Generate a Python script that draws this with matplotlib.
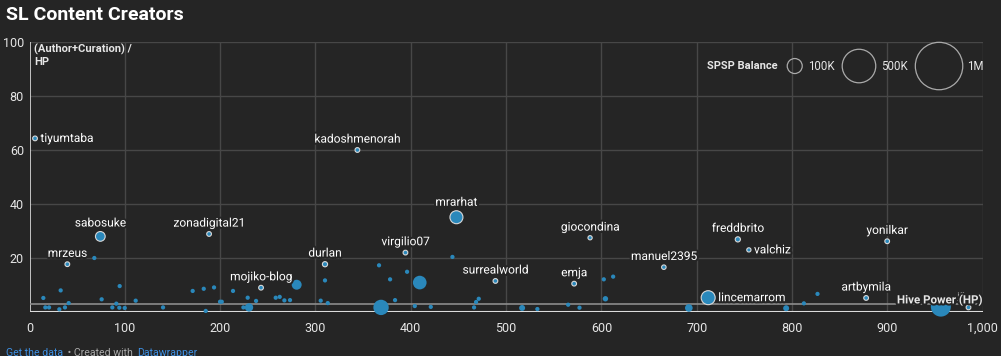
import numpy as np
import matplotlib.pyplot as plt
import matplotlib.patheffects as pe

# labelled creators: Hive Power (HP), (Author+Curation)/HP, SPSP balance (thousands)
label_names = [
    "tiyumtaba", "kadoshmenorah", "sabosuke", "zonadigital21", "mrzeus",
    "mojiko-blog", "durlan", "virgilio07", "mrarhat", "surrealworld",
    "emja", "giocondina", "manuel2395", "freddbrito", "valchiz",
    "lincemarrom", "yonilkar", "artbymila", "jfhu...",
]
label_hp = [5.8, 344, 74.3, 188.4, 39.7, 242.9, 310, 394.4, 447.9, 488.8,
            571.4, 588.1, 665.5, 743.1, 754.7, 712, 899.8, 877.7, 985.1]
label_ratio = [64.3, 60.0, 28.0, 28.9, 17.7, 9.0, 17.7, 22.0, 35.1, 11.5,
               10.5, 27.5, 16.6, 26.9, 23.0, 5.3, 26.2, 5.2, 1.7]
label_balance = [10, 10, 42, 10, 10, 10, 12, 10, 75, 10,
                 10, 8, 9, 12, 8, 87, 10, 10, 10]
label_side = ["right", "above", "above", "above", "above",
              "above", "above", "above", "above", "above",
              "above", "above", "above", "above", "right",
              "right", "above", "above", "above"]

# other creators (no label)
other_hp = [68, 14.5, 32.7, 16.6, 20.5, 31.3, 37.2, 41.1, 75.7, 94.6,
            86.9, 91.1, 94.2, 99.9, 111.4, 140.1, 171.2, 182.8, 193.6, 184.9,
            199.9, 201.7, 213.5, 228.9, 237.7, 224.4, 230.3, 280.3, 258.3, 262.5,
            267.4, 273.3, 310, 305.5, 312.9, 368.8, 366.7, 378.3, 383.5, 396.1,
            409.4, 404.2, 421, 443.7, 466.4, 468.5, 471.3, 516.8, 532.8, 565.1,
            577, 602.5, 612.3, 604.2, 691.7, 793.8, 812.4, 826.7, 956.1]
other_ratio = [20, 5.2, 8.0, 1.7, 1.7, 1.0, 1.7, 3.3, 4.7, 9.6,
               1.7, 3.1, 1.6, 1.5, 4.2, 1.7, 7.8, 8.6, 9.1, 0.4,
               3.8, 3.8, 7.8, 5.3, 4.1, 1.7, 1.7, 10.1, 5.3, 5.6,
               4.3, 4.4, 11.7, 4.2, 3.3, 1.7, 17.3, 12.1, 4.4, 14.9,
               10.9, 2.2, 1.9, 20.4, 1.7, 3.7, 4.9, 1.5, 1.1, 2.7,
               1.6, 12.1, 13.1, 4.9, 1.5, 1.4, 3.2, 6.7, 2.0]
other_balance = [8, 8, 8, 8, 8, 8, 8, 8, 8, 8,
                 8, 8, 8, 8, 8, 8, 8, 8, 8, 8,
                 8, 8, 8, 8, 8, 8, 31, 44, 8, 8,
                 8, 8, 8, 8, 8, 105, 8, 8, 8, 8,
                 83, 8, 8, 8, 8, 8, 8, 16, 8, 8,
                 8, 8, 8, 13, 26, 16, 8, 8, 178]

legend_values = [100, 500, 1000]
legend_labels = ["100K", "500K", "1M"]

x_ticks = [0, 100, 200, 300, 400, 500, 600, 700, 800, 900, 1000]
y_ticks = [20, 40, 60, 80, 100]

BG = "#252525"
GRID = "#474747"
TEXT = "#e6e6e6"
DOT = "#2a88bb"
LINK = "#3d8ee0"
DPI = 100


def radius_px(bal):
    return 7.5 * np.sqrt(np.asarray(bal, dtype=float) / 100.0)


def marker_area(bal):
    # scatter sizes are in points^2
    return (2 * radius_px(bal) * 72 / DPI) ** 2


plt.rcParams["font.family"] = ["Roboto", "DejaVu Sans"]
halo = [pe.withStroke(linewidth=3, foreground=BG)]

fig = plt.figure(figsize=(10.01, 3.56), dpi=DPI)
fig.patch.set_facecolor(BG)
ax = fig.add_axes([29.5 / 1001, 44 / 356, 953.2 / 1001, 270 / 356])
ax.set_facecolor(BG)
ax.set_xlim(0, 1000)
ax.set_ylim(0, 100)

for s in ax.spines.values():
    s.set_visible(False)
ax.set_xticks(x_ticks)
ax.set_xticklabels([f"{v:,}" for v in x_ticks])
ax.set_yticks(y_ticks)
ax.tick_params(length=0, colors=TEXT, labelsize=9)
ax.tick_params(axis="x", pad=7)
ax.tick_params(axis="y", pad=4)
for v in x_ticks[1:]:
    ax.axvline(v, color=GRID, lw=1, zorder=0)
for v in y_ticks:
    ax.axhline(v, color=GRID, lw=1, zorder=0)
ax.axvline(0, color="#dddddd", lw=1.2, zorder=1)
ax.axhline(0, color="#dddddd", lw=1.5, zorder=1)
ax.axhline(3, color="#8c8c8c", lw=1.2, zorder=1)

ax.scatter(other_hp, other_ratio, s=marker_area(other_balance), color=DOT,
           linewidths=0, zorder=3, clip_on=False)
ax.scatter(label_hp, label_ratio, s=marker_area(label_balance), color=DOT,
           edgecolors="#d8d8d8", linewidths=0.8, zorder=4, clip_on=False)

for name, x, y, b, side in zip(label_names, label_hp, label_ratio,
                               label_balance, label_side):
    r = float(radius_px(b))
    if side == "above":
        off, ha = (0, (r + 8.5) * 72 / DPI), "center"
    else:
        off, ha = ((r + 3) * 72 / DPI, 0), "left"
    # the last label sits under the x-axis title, as in the original
    fs = 6.5 if name == "jfhu..." else 8.6
    ax.annotate(name, (x, y), xytext=off, textcoords="offset points",
                ha=ha, va="center", color="white", fontsize=fs,
                path_effects=halo, zorder=5)

ax.text(0.005, 0.993, "(Author+Curation) /\nHP", transform=ax.transAxes,
        ha="left", va="top", color=TEXT, fontsize=8, fontweight="bold",
        linespacing=1.25, zorder=6)
ax.text(1.0, 0.045, "Hive Power (HP)", transform=ax.transAxes, ha="right",
        va="center", color=TEXT, fontsize=8.3, fontweight="bold",
        path_effects=halo, zorder=7)

# size legend
leg_x = [0.8028, 0.8702, 0.9542]
lab_x = [0.8164, 0.8933, 0.9838]
ax.text(0.7852, 0.911, "SPSP Balance", transform=ax.transAxes, ha="right",
        va="center", color=TEXT, fontsize=8, fontweight="bold")
ax.scatter(leg_x, [0.911] * 3, s=marker_area(legend_values), facecolors="none",
           edgecolors="#aaaaaa", linewidths=0.9, transform=ax.transAxes,
           clip_on=False, zorder=6)
for lx, lab in zip(lab_x, legend_labels):
    ax.text(lx, 0.911, lab, transform=ax.transAxes, ha="left", va="center",
            color=TEXT, fontsize=8.3)

fig.text(6 / 1001, 1 - 15 / 356, "SL Content Creators", ha="left",
         va="center", color="white", fontsize=14, fontweight="bold")

# footer: chain the pieces one after another
renderer = fig.canvas.get_renderer()
fx = 6 / 1001
for piece, col in [("Get the data", LINK), (" • Created with ", "#a8a8a8"),
                   ("Datawrapper", LINK)]:
    t = fig.text(fx, 1 - 353 / 356, piece, ha="left", va="center",
                 color=col, fontsize=7.6)
    bb = t.get_window_extent(renderer)
    fx = (bb.x1 + 2) / fig.bbox.width

fig.savefig("out.png", dpi=DPI, facecolor=BG)
